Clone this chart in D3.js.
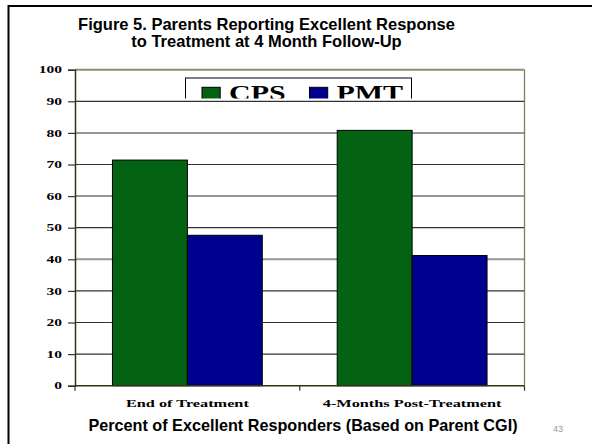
<!DOCTYPE html>
<html>
<head>
<meta charset="utf-8">
<script src="https://cdn.jsdelivr.net/npm/d3@7"></script>
<style>
  html, body { margin: 0; padding: 0; background: #fff; }
  svg { display: block; }
</style>
</head>
<body>
<svg id="chart" width="592" height="444"></svg>
<script>
// Chart data
const categories = ["End of Treatment", "4-Months Post-Treatment"];
const seriesNames = ["CPS", "PMT"];
const cpsValues = [71.4, 80.8];
const pmtValues = [47.6, 41.2];
const yTicks = [0, 10, 20, 30, 40, 50, 60, 70, 80, 90, 100];
const titleLines = ["Figure 5. Parents Reporting Excellent Response", "to Treatment at 4 Month Follow-Up"];
const footerText = "Percent of Excellent Responders (Based on Parent CGI)";
const pageNumber = "43";

const colors = { CPS: "#046312", PMT: "#00008f" };

const svg = d3.select("#chart");

// slide frame (top and left edges)
svg.append("path")
  .attr("d", "M8.5,444 L8.5,6 L592,6")
  .attr("fill", "none")
  .attr("stroke", "#000")
  .attr("stroke-width", 2);

// title
svg.append("text")
  .attr("x", 266.5)
  .attr("font-family", "Liberation Sans, Arial, sans-serif")
  .attr("font-weight", "bold")
  .attr("font-size", 16.5)
  .attr("text-anchor", "middle")
  .attr("fill", "#000")
  .selectAll("tspan")
  .data(titleLines)
  .join("tspan")
  .attr("x", 266.5)
  .attr("y", (d, i) => 29.5 + i * 17.4)
  .text(d => d);

// plot area bounds and scales
const plotLeft = 75, plotRight = 524.5, plotTop = 69.7, plotBottom = 385.7;
const x0 = d3.scaleBand().domain(categories).range([plotLeft, plotRight]).padding(0);
const bw = x0.bandwidth();
const x1 = d3.scaleBand().domain(seriesNames).range([bw / 6, bw * 5 / 6]).padding(0);
const y = d3.scaleLinear().domain([0, 100]).range([plotBottom, plotTop]);

const rows = categories.map((c, i) => ({ category: c, CPS: cpsValues[i], PMT: pmtValues[i] }));

// horizontal gridlines
const isLight = d => d % 20 === 0 && d >= 40;
svg.append("g")
  .selectAll("line")
  .data(yTicks.filter(t => t > 0 && t < 100))
  .join("line")
  .attr("x1", plotLeft).attr("x2", plotRight)
  .attr("y1", d => y(d)).attr("y2", d => y(d))
  .attr("stroke", d => isLight(d) ? "#979797" : "#333")
  .attr("stroke-width", d => isLight(d) ? 2 : 1.2);

// plot frame: top and right
svg.append("line")
  .attr("x1", plotLeft).attr("x2", plotRight).attr("y1", plotTop).attr("y2", plotTop)
  .attr("stroke", "#8d8d72").attr("stroke-width", 2);
svg.append("line")
  .attr("x1", plotRight).attr("x2", plotRight).attr("y1", plotTop).attr("y2", plotBottom)
  .attr("stroke", "#7f7f58").attr("stroke-width", 1.3);

// bars
const groups = svg.append("g")
  .selectAll("g")
  .data(rows)
  .join("g")
  .attr("transform", d => `translate(${x0(d.category)},0)`);

groups.selectAll("rect")
  .data(d => seriesNames.map(s => ({ key: s, value: d[s] })))
  .join("rect")
  .attr("x", d => x1(d.key))
  .attr("y", d => y(d.value))
  .attr("width", x1.bandwidth())
  .attr("height", d => plotBottom - y(d.value))
  .attr("fill", d => colors[d.key])
  .attr("stroke", "#000")
  .attr("stroke-width", 1);

// y axis
const yAxis = d3.axisLeft(y).tickValues(yTicks).tickSize(7).tickPadding(0).tickFormat(() => "");
const yg = svg.append("g").attr("transform", `translate(${plotLeft},0)`).call(yAxis);
yg.select(".domain").attr("stroke", "#333311").attr("stroke-width", 1.5);
yg.selectAll(".tick line").attr("stroke", "#333").attr("stroke-width", 1.2);

// y tick labels (wide bold serif)
svg.append("g")
  .selectAll("text")
  .data(yTicks)
  .join("text")
  .attr("transform", d => `translate(62,${y(d) + 3.6}) scale(1.55,1)`)
  .attr("text-anchor", "end")
  .attr("font-family", "Liberation Serif, Times New Roman, serif")
  .attr("font-weight", "bold")
  .attr("font-size", 10)
  .attr("fill", "#000")
  .text(d => d);

// x axis
const xAxis = d3.axisBottom(x0).tickSize(0).tickFormat(() => "");
const xg = svg.append("g").attr("transform", `translate(0,${plotBottom})`).call(xAxis);
xg.select(".domain").remove();
svg.append("line")
  .attr("x1", plotLeft).attr("x2", plotRight).attr("y1", plotBottom).attr("y2", plotBottom)
  .attr("stroke", "#333311").attr("stroke-width", 1.5);
svg.append("g")
  .selectAll("line")
  .data([plotLeft, x0(categories[1]), plotRight])
  .join("line")
  .attr("x1", d => d).attr("x2", d => d)
  .attr("y1", plotBottom).attr("y2", plotBottom + 5)
  .attr("stroke", "#333").attr("stroke-width", 1.2);

// category labels
svg.append("g")
  .selectAll("text")
  .data(categories)
  .join("text")
  .attr("transform", d => `translate(${x0(d) + bw / 2},407) scale(1.55,1)`)
  .attr("text-anchor", "middle")
  .attr("font-family", "Liberation Serif, Times New Roman, serif")
  .attr("font-weight", "bold")
  .attr("font-size", 10.5)
  .attr("fill", "#000")
  .text(d => d);

// legend (its lower edge is cut off by the plot's 90 line)
const defs = svg.append("defs");
defs.append("clipPath").attr("id", "legendClip")
  .append("rect").attr("x", 180).attr("y", 70).attr("width", 240).attr("height", 28.5);
const legend = svg.append("g").attr("clip-path", "url(#legendClip)");
legend.append("rect")
  .attr("x", 185.5).attr("y", 78).attr("width", 226).attr("height", 40)
  .attr("fill", "#fff").attr("stroke", "#000").attr("stroke-width", 1);
const legendX = { CPS: 202, PMT: 309.5 };
const items = legend.selectAll("g.item")
  .data(seriesNames)
  .join("g")
  .attr("class", "item");
items.append("rect")
  .attr("x", d => legendX[d]).attr("y", 87.3)
  .attr("width", 18.2).attr("height", 14)
  .attr("fill", d => colors[d]).attr("stroke", "#000").attr("stroke-width", 1);
items.append("text")
  .attr("transform", d => `translate(${legendX[d] + 27},99.5) scale(1.5,1)`)
  .attr("font-family", "Liberation Serif, Times New Roman, serif")
  .attr("font-weight", "bold")
  .attr("font-size", 20)
  .attr("fill", "#000")
  .text(d => d);

// footer caption
svg.append("text")
  .attr("x", 303).attr("y", 431)
  .attr("text-anchor", "middle")
  .attr("font-family", "Liberation Sans, Arial, sans-serif")
  .attr("font-weight", "bold")
  .attr("font-size", 16.2)
  .attr("fill", "#000")
  .text(footerText);

// page number
svg.append("text")
  .attr("x", 558).attr("y", 431.5)
  .attr("text-anchor", "middle")
  .attr("font-family", "Liberation Sans, Arial, sans-serif")
  .attr("font-size", 9)
  .attr("fill", "#9a9a9a")
  .text(pageNumber);
</script>
</body>
</html>
